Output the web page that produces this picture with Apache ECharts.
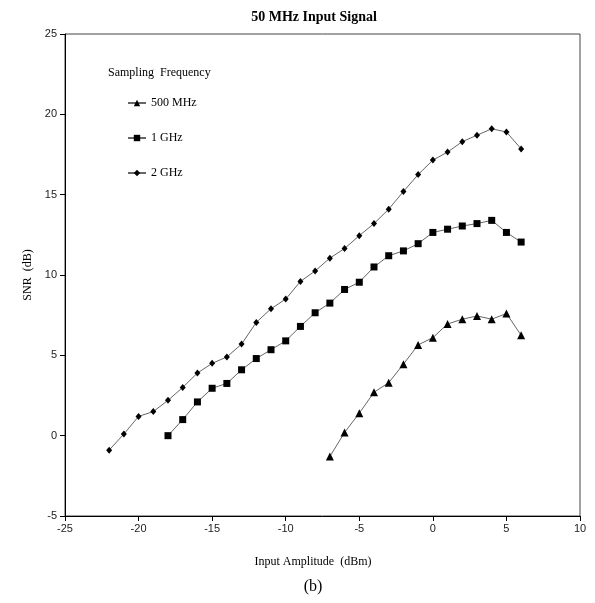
<!DOCTYPE html>
<html>
<head>
<meta charset="utf-8">
<script src="https://cdn.jsdelivr.net/npm/echarts@6/dist/echarts.min.js"></script>
<style>html,body{margin:0;padding:0;background:#fff}#c{width:595px;height:603px}</style>
</head>
<body>
<div id="c"></div>
<script>
const xTicks = [-25, -20, -15, -10, -5, 0, 5, 10];
const yTicks = [-5, 0, 5, 10, 15, 20, 25];

const x500 = [-7, -6, -5, -4, -3, -2, -1, 0, 1, 2, 3, 4, 5, 6];
const snr500 = [-1.3, 0.2, 1.4, 2.7, 3.3, 4.45, 5.65, 6.1, 6.95, 7.25, 7.45, 7.25, 7.6, 6.25];

const x1G = [-18, -17, -16, -15, -14, -13, -12, -11, -10, -9, -8, -7, -6, -5, -4, -3, -2, -1, 0, 1, 2, 3, 4, 5, 6];
const snr1G = [0.0, 1.0, 2.1, 2.95, 3.25, 4.1, 4.8, 5.35, 5.9, 6.8, 7.65, 8.25, 9.1, 9.55, 10.5, 11.2, 11.5, 11.95, 12.65, 12.85, 13.05, 13.2, 13.4, 12.65, 12.05];

const x2G = [-22, -21, -20, -19, -18, -17, -16, -15, -14, -13, -12, -11, -10, -9, -8, -7, -6, -5, -4, -3, -2, -1, 0, 1, 2, 3, 4, 5, 6];
const snr2G = [-0.9, 0.1, 1.2, 1.5, 2.2, 3.0, 3.9, 4.5, 4.9, 5.7, 7.05, 7.9, 8.5, 9.6, 10.25, 11.05, 11.65, 12.45, 13.2, 14.1, 15.2, 16.25, 17.15, 17.65, 18.3, 18.7, 19.1, 18.9, 17.85];

const seriesNames = ['500 MHz', '1 GHz', '2 GHz'];

function pairs(xs, ys) { return xs.map((x, i) => [x, ys[i]]); }

const serif = '"Liberation Serif", "DejaVu Serif", serif';
const sans = '"Liberation Sans", Arial, sans-serif';

const chart = echarts.init(document.getElementById('c'), null, {renderer: 'canvas'});

const lineStyle = {color: '#666', width: 1};
const itemStyle = {color: '#000'};

chart.setOption({
  animation: false,
  backgroundColor: '#fff',
  title: {
    text: '50 MHz Input Signal',
    left: 309, top: 5, textAlign: 'center',
    textStyle: {fontFamily: serif, fontSize: 14, fontWeight: 'bold', color: '#000'}
  },
  grid: {left: 65, right: 15, top: 34, bottom: 87, show: true, borderColor: '#444', borderWidth: 1, backgroundColor: 'transparent'},
  legend: {
    orient: 'vertical', left: 122, top: 92,
    itemWidth: 18, itemHeight: 8, itemGap: 23,
    data: seriesNames,
    textStyle: {fontFamily: serif, fontSize: 12, color: '#000', padding: [0, 0, 0, 0]}
  },
  xAxis: {
    type: 'value', min: -25, max: 10, interval: 5,
    axisLine: {show: true, onZero: false, lineStyle: {color: '#000', width: 1}},
    axisTick: {show: true, inside: false, length: 5, lineStyle: {color: '#000'}},
    axisLabel: {fontFamily: sans, fontSize: 11, color: '#222', margin: 7},
    splitLine: {show: false}
  },
  yAxis: {
    type: 'value', min: -5, max: 25, interval: 5,
    axisLine: {show: true, onZero: false, lineStyle: {color: '#000', width: 1}},
    axisTick: {show: true, inside: false, length: 5, lineStyle: {color: '#000'}},
    axisLabel: {fontFamily: sans, fontSize: 11, color: '#222', margin: 8},
    splitLine: {show: false}
  },
  graphic: [
    {type: 'text', left: 108, top: 67, style: {text: 'Sampling  Frequency', font: '12px ' + serif, fill: '#000'}},
    {type: 'text', x: 28, y: 275, rotation: Math.PI / 2, style: {text: 'SNR  (dB)', font: '12px ' + serif, fill: '#000', align: 'center', verticalAlign: 'middle'}},
    {type: 'text', x: 313, y: 562, style: {text: 'Input Amplitude  (dBm)', font: '12px ' + serif, fill: '#000', align: 'center', verticalAlign: 'middle'}},
    {type: 'text', x: 313, y: 587, style: {text: '(b)', font: '16px ' + serif, fill: '#000', align: 'center', verticalAlign: 'middle'}}
  ],
  series: [
    {name: seriesNames[0], type: 'line', data: pairs(x500, snr500), symbol: 'triangle', symbolSize: 8, lineStyle, itemStyle},
    {name: seriesNames[1], type: 'line', data: pairs(x1G, snr1G), symbol: 'rect', symbolSize: 7, lineStyle, itemStyle},
    {name: seriesNames[2], type: 'line', data: pairs(x2G, snr2G), symbol: 'diamond', symbolSize: [6, 7], lineStyle, itemStyle}
  ]
});
</script>
</body>
</html>
